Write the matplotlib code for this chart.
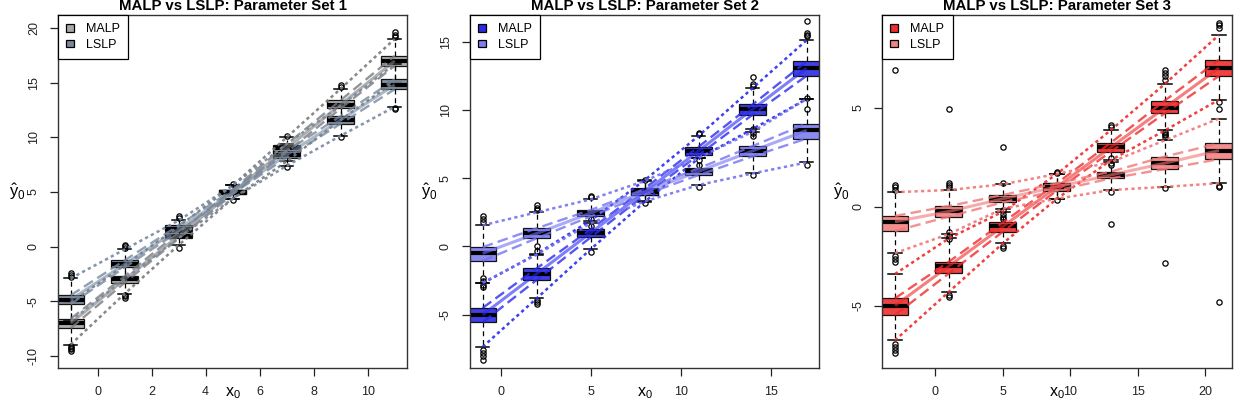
import matplotlib
matplotlib.use("Agg")
import matplotlib.pyplot as plt
from matplotlib.patches import Patch

plt.rcParams["font.family"] = ["Liberation Sans", "DejaVu Sans"]
plt.rcParams["mathtext.fontset"] = "custom"
plt.rcParams["mathtext.rm"] = "Liberation Sans"
plt.rcParams["mathtext.it"] = "Liberation Sans"

METHODS = ["MALP", "LSLP"]
TITLES = ["MALP vs LSLP: Parameter Set 1",
          "MALP vs LSLP: Parameter Set 2",
          "MALP vs LSLP: Parameter Set 3"]

# ---------------- Parameter set 1 ----------------
P1_X = [-1, 1, 3, 5, 7, 9, 11]
P1_MALP_MED = [-7.0, -3.0, 1.0, 5.0, 9.0, 13.0, 17.0]
P1_MALP_Q1 = [-7.45, -3.3, 0.75, 4.8, 8.65, 12.65, 16.55]
P1_MALP_Q3 = [-6.6, -2.7, 1.3, 5.2, 9.35, 13.4, 17.45]
P1_MALP_WLO = [-8.95, -4.3, 0.15, 4.4, 7.8, 11.6, 15.1]
P1_MALP_WHI = [-5.1, -1.7, 1.85, 5.6, 10.0, 14.45, 19.0]
P1_MALP_FLIERS = [[-9.1, -9.25, -9.4, -9.5], [-4.4, -4.55, -4.7], [-0.1],
                  [4.3, 5.75], [10.1], [14.6, 14.8], [19.2, 19.4, 19.6]]
P1_LSLP_MED = [-4.85, -1.6, 1.6, 5.0, 8.4, 11.6, 14.8]
P1_LSLP_Q1 = [-5.25, -1.9, 1.4, 4.85, 8.15, 11.25, 14.4]
P1_LSLP_Q3 = [-4.45, -1.25, 1.95, 5.2, 8.75, 11.95, 15.3]
P1_LSLP_WLO = [-6.8, -2.95, 0.8, 4.4, 7.4, 10.15, 12.8]
P1_LSLP_WHI = [-2.9, -0.25, 2.4, 5.6, 9.4, 12.9, 16.7]
P1_LSLP_FLIERS = [[-2.75, -2.6, -2.45], [-0.1, 0.05, 0.2], [2.6, 2.8],
                  [], [7.3], [10.0], [12.6, 12.7]]

# ---------------- Parameter set 2 ----------------
P2_X = [-1, 2, 5, 8, 11, 14, 17]
P2_MALP_MED = [-5.0, -2.0, 1.0, 4.0, 7.0, 10.05, 13.05]
P2_MALP_Q1 = [-5.55, -2.45, 0.67, 3.77, 6.7, 9.65, 12.5]
P2_MALP_Q3 = [-4.5, -1.6, 1.25, 4.25, 7.3, 10.4, 13.55]
P2_MALP_WLO = [-7.35, -3.8, -0.2, 3.27, 6.45, 8.6, 10.8]
P2_MALP_WHI = [-2.7, -0.55, 1.9, 4.85, 8.1, 11.6, 15.1]
P2_MALP_FLIERS = [[-7.6, -7.8, -8.0, -8.3, -2.5, -2.3],
                  [-3.9, -4.05, -4.2, -0.3, 0.0],
                  [-0.4, 2.0], [3.2, 4.9], [6.0, 6.3, 8.2, 8.3],
                  [8.1, 8.3, 11.75, 11.9, 12.4],
                  [10.1, 15.4, 15.5, 15.6, 16.5]]
P2_LSLP_MED = [-0.5, 0.95, 2.45, 4.0, 5.5, 7.0, 8.5]
P2_LSLP_Q1 = [-1.05, 0.6, 2.2, 3.8, 5.23, 6.6, 7.9]
P2_LSLP_Q3 = [-0.05, 1.33, 2.67, 4.2, 5.72, 7.35, 9.0]
P2_LSLP_WLO = [-2.65, -0.6, 1.7, 3.3, 4.5, 5.35, 6.15]
P2_LSLP_WHI = [1.55, 2.5, 3.45, 4.8, 6.5, 8.4, 10.8]
P2_LSLP_FLIERS = [[1.8, 2.0, 2.2, -2.8, -3.0], [2.7, 2.85, 3.0],
                  [3.6, 3.7, 1.5], [], [4.35], [5.25, 8.6], [6.0, 10.9]]

# ---------------- Parameter set 3 ----------------
P3_X = [-3, 1, 5, 9, 13, 17, 21]
P3_MALP_MED = [-5.0, -3.0, -1.0, 1.0, 3.0, 5.0, 7.0]
P3_MALP_Q1 = [-5.47, -3.37, -1.26, 0.82, 2.78, 4.72, 6.6]
P3_MALP_Q3 = [-4.63, -2.78, -0.8, 1.18, 3.23, 5.36, 7.42]
P3_MALP_WLO = [-6.75, -4.3, -1.85, 0.4, 2.35, 3.85, 5.4]
P3_MALP_WHI = [-3.4, -1.6, -0.25, 1.65, 3.87, 6.2, 8.67]
P3_MALP_FLIERS = [[-6.95, -7.1, -7.25, -7.4], [-4.45, -4.55, -1.45, -1.3],
                  [-2.0, -2.1, -0.15], [0.35, 1.7], [2.1, 2.2, 4.0, 4.1],
                  [3.6, 6.4, 6.6, 6.75, 6.9], [9.0, 9.15, 9.3]]
P3_LSLP_MED = [-0.76, -0.24, 0.4, 1.0, 1.6, 2.2, 2.83]
P3_LSLP_Q1 = [-1.23, -0.5, 0.22, 0.81, 1.43, 1.9, 2.4]
P3_LSLP_Q3 = [-0.47, 0.03, 0.59, 1.18, 1.77, 2.53, 3.2]
P3_LSLP_WLO = [-2.35, -1.38, -0.1, 0.4, 0.84, 1.0, 1.18]
P3_LSLP_WHI = [0.73, 0.84, 1.13, 1.65, 2.25, 3.35, 4.45]
P3_LSLP_FLIERS = [[0.85, 1.0, 1.1, -2.5, -2.65, -2.8, 6.9],
                  [1.0, 1.1, 1.2, -1.5, -1.65, 4.95],
                  [1.2, -0.35, -0.5, -0.6, 3.0], [1.75],
                  [0.75, 2.45, -0.9], [0.95, 3.5, 3.65, 3.75, -2.85],
                  [1.0, 1.05, 4.95, 5.3, -4.8]]

Y_TICKS = [[-10, -5, 0, 5, 10, 15, 20], [-5, 0, 5, 10, 15], [-5, 0, 5]]
X_TICKS = [[0, 2, 4, 6, 8, 10], [0, 5, 10, 15], [0, 5, 10, 15, 20]]

panels = [
    dict(x=P1_X,
         MALP=(P1_MALP_MED, P1_MALP_Q1, P1_MALP_Q3, P1_MALP_WLO, P1_MALP_WHI, P1_MALP_FLIERS),
         LSLP=(P1_LSLP_MED, P1_LSLP_Q1, P1_LSLP_Q3, P1_LSLP_WLO, P1_LSLP_WHI, P1_LSLP_FLIERS)),
    dict(x=P2_X,
         MALP=(P2_MALP_MED, P2_MALP_Q1, P2_MALP_Q3, P2_MALP_WLO, P2_MALP_WHI, P2_MALP_FLIERS),
         LSLP=(P2_LSLP_MED, P2_LSLP_Q1, P2_LSLP_Q3, P2_LSLP_WLO, P2_LSLP_WHI, P2_LSLP_FLIERS)),
    dict(x=P3_X,
         MALP=(P3_MALP_MED, P3_MALP_Q1, P3_MALP_Q3, P3_MALP_WLO, P3_MALP_WHI, P3_MALP_FLIERS),
         LSLP=(P3_LSLP_MED, P3_LSLP_Q1, P3_LSLP_Q3, P3_LSLP_WLO, P3_LSLP_WHI, P3_LSLP_FLIERS)),
]

# styling
BOX_COLORS = [{"MALP": "#a8a8a8", "LSLP": "#7a8899"},
              {"MALP": "#2b2be3", "LSLP": "#7d7df0"},
              {"MALP": "#ee2e2e", "LSLP": "#f28282"}]
LINE_COLORS = [{"MALP": "#7a7a7a", "LSLP": "#7688a0"},
               {"MALP": "#2a2af0", "LSLP": "#7272f0"},
               {"MALP": "#ee2a2a", "LSLP": "#f07676"}]
Y_LIMS = [(-11.1, 21.2), (-8.9, 16.95), (-8.15, 9.68)]
AX_LEFT = [58, 470, 882.3]
W, H = 1237, 413

fig = plt.figure(figsize=(W / 100, H / 100), dpi=100)

for k, panel in enumerate(panels):
    ax = fig.add_axes([AX_LEFT[k] / W, 1 - 368 / H, 349.3 / W, 353 / H])
    xs = panel["x"]
    step = xs[1] - xs[0]
    bw = 0.5 * step

    for m in METHODS:
        med, q1, q3, wlo, whi, fl = panel[m]
        stats = [dict(med=med[i], q1=q1[i], q3=q3[i], whislo=wlo[i],
                      whishi=whi[i], fliers=fl[i]) for i in range(len(xs))]
        ax.bxp(stats, positions=xs, widths=bw, patch_artist=True,
               capwidths=bw * 0.5, manage_ticks=False,
               boxprops=dict(facecolor=BOX_COLORS[k][m], edgecolor="black",
                             linewidth=0.9, alpha=0.9),
               medianprops=dict(color="black", linewidth=3.0),
               whiskerprops=dict(color="black", linewidth=0.9,
                                 linestyle=(0, (4, 3))),
               capprops=dict(color="black", linewidth=1.1),
               flierprops=dict(marker="o", markerfacecolor="none",
                               markeredgecolor="black", markersize=3.8,
                               markeredgewidth=0.9),
               zorder=2)

    for m in METHODS:
        med, q1, q3, wlo, whi, fl = panel[m]
        c = LINE_COLORS[k][m]
        ax.plot(xs, med, color=c, lw=2.2, alpha=0.6, zorder=3,
                solid_capstyle="butt")
        for band in (q1, q3):
            ax.plot(xs, band, color=c, lw=1.7, alpha=0.8, zorder=3,
                    dashes=(4.5, 2.2))
        for band in (wlo, whi):
            ax.plot(xs, band, color=c, lw=1.8, alpha=0.9, zorder=3,
                    dashes=(1.3, 1.3))

    ax.set_xlim(xs[0] - 0.235 * step, xs[-1] + 0.235 * step)
    ax.set_ylim(*Y_LIMS[k])
    ax.set_xticks(X_TICKS[k])
    ax.set_yticks(Y_TICKS[k])
    ax.set_xticklabels([str(t) for t in X_TICKS[k]])
    ax.set_yticklabels([str(t) for t in Y_TICKS[k]], rotation=90,
                       va="center")
    ax.tick_params(direction="out", length=6, width=0.9, labelsize=9,
                   colors="#222222", pad=7)
    for sp in ax.spines.values():
        sp.set_linewidth(1.0)
        sp.set_color("#333333")

    ax.set_title(TITLES[k], fontsize=10.8, fontweight="bold", pad=3.5)
    ax.set_xlabel(r"$\mathregular{x_0}$", fontsize=11.5, labelpad=-9)
    ax.set_ylabel(r"$\mathregular{\hat{y}_0}$", fontsize=12, rotation=0,
                  labelpad=8, va="center")

    handles = [Patch(facecolor=BOX_COLORS[k][m], edgecolor="black",
                     linewidth=0.9) for m in METHODS]
    leg = ax.legend(handles, METHODS, loc="upper left", fontsize=9,
                    handlelength=0.6, handleheight=0.6, handletextpad=1.0,
                    labelspacing=0.3, borderaxespad=0, borderpad=0.65,
                    fancybox=False, framealpha=1, edgecolor="black")
    leg.get_frame().set_linewidth(0.9)
    leg.set_zorder(5)

fig.savefig("out.png", dpi=100)
